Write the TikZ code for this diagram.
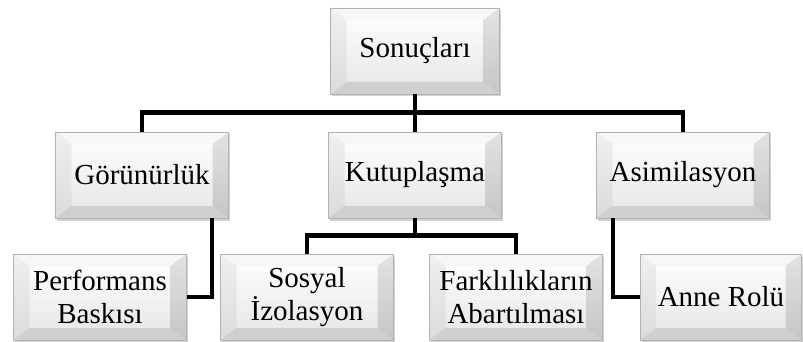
\documentclass[tikz,border=0pt]{standalone}
\usepackage{fontspec}
\setmainfont{Liberation Serif}
\usetikzlibrary{shadows}

% bevel depths and the four bevel faces of a box
\newcommand\bvx{16pt}
\newcommand\bvy{12pt}
\newcommand\bevelfaces{%
  \coordinate (bnw) at (path picture bounding box.north west);
  \coordinate (bne) at (path picture bounding box.north east);
  \coordinate (bsw) at (path picture bounding box.south west);
  \coordinate (bse) at (path picture bounding box.south east);
  \fill[gray!6] (bnw) -- (bne) -- ([shift={(-\bvx,-\bvy)}]bne) -- ([shift={(\bvx,-\bvy)}]bnw) -- cycle;
  \shade[top color=gray!12, bottom color=gray!28] (bnw) -- (bsw) -- ([shift={(\bvx,\bvy)}]bsw) -- ([shift={(\bvx,-\bvy)}]bnw) -- cycle;
  \shade[top color=gray!22, bottom color=gray!45] (bne) -- (bse) -- ([shift={(-\bvx,\bvy)}]bse) -- ([shift={(-\bvx,-\bvy)}]bne) -- cycle;
  \fill[gray!38] (bsw) -- (bse) -- ([shift={(-\bvx,\bvy)}]bse) -- ([shift={(\bvx,\bvy)}]bsw) -- cycle;
}

\begin{document}
\begin{tikzpicture}[
        x=1pt, y=-1pt,
        box/.style={rectangle, draw=gray!60, line width=0.7pt, minimum width=173pt, minimum height=86pt,
            align=center, top color=white, bottom color=gray!20, path picture={\bevelfaces},
            drop shadow={shadow xshift=1.5pt, shadow yshift=-2.5pt, opacity=0.35},
            font=\fontsize{29}{33}\selectfont, inner sep=2pt},
        conn/.style={line width=4.5pt, black}
    ]
        \useasboundingbox (0,0) rectangle (803,342);

        % Boxes
        \node[box, minimum width=169pt] (son) at (415,51) {Sonuçları};

        \node[box] (gor) at (142,175) {Görünürlük};
        \node[box] (kut) at (415,175) {Kutuplaşma};
        \node[box] (asi) at (683,175) {Asimilasyon};

        \node[box] (perf) at (100,297) {Performans\\Baskısı};
        \node[box] (sos) at (307,297) {Sosyal\\İzolasyon};
        \node[box] (fark) at (516,297) {Farklılıkların\\Abartılması};
        \node[box, minimum width=161pt] (anne) at (721,297) {Anne Rolü};

        % Connectors
        \draw[conn] (son.south) -- ++(0,18) -| (gor.north);
        \draw[conn] (son.south) -- ++(0,18) -| (asi.north);
        \draw[conn] (son.south) -- (kut.north);
        \draw[conn] (kut.south) -- ++(0,17) -| (sos.north);
        \draw[conn] (kut.south) -- ++(0,17) -| (fark.north);
        \draw[conn] ([xshift=70pt]gor.south) |- (perf.east);
        \draw[conn] ([xshift=-70pt]asi.south) |- (anne.west);
    \end{tikzpicture}
\end{document}
